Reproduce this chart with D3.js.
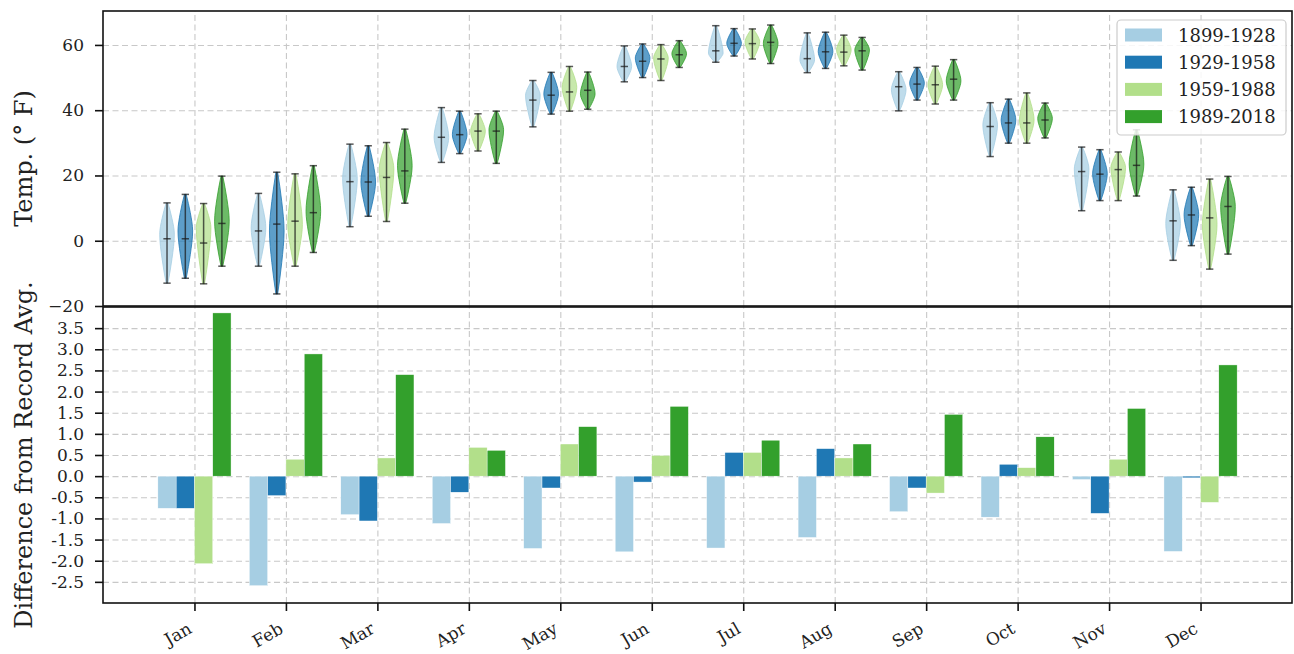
<!DOCTYPE html>
<html><head><meta charset="utf-8">
<script src="https://cdn.jsdelivr.net/npm/d3@7"></script>
<style>body{margin:0;background:#fff} text{font-family:"DejaVu Serif",serif;fill:#222}</style>
</head><body><svg id="c" width="1294" height="654"></svg>
<script>
// ---------- data ----------
const months = ["Jan","Feb","Mar","Apr","May","Jun","Jul","Aug","Sep","Oct","Nov","Dec"];
const periods = ["1899-1928","1929-1958","1959-1988","1989-2018"];
const tempTicks = [-20,0,20,40,60];
const diffTicks = [-2.5,-2.0,-1.5,-1.0,-0.5,0.0,0.5,1.0,1.5,2.0,2.5,3.0,3.5];

// violin stats (deg F)
const min1899 = [-13.0,-7.8,4.3,24.0,34.9,48.7,54.7,51.5,39.8,25.8,9.2,-6.0];
const min1929 = [-11.5,-16.3,7.5,26.7,38.8,50.0,56.6,52.8,43.1,29.9,12.3,-1.5];
const min1959 = [-13.2,-7.8,5.9,27.5,39.7,49.1,55.7,53.6,41.9,29.9,12.3,-8.7];
const min1989 = [-7.8,-3.6,11.5,23.7,40.3,53.1,54.3,52.3,43.1,31.5,13.7,-4.1];

const med1899 = [0.6,3.0,18.1,31.7,43.1,53.4,58.2,55.8,47.2,35.0,21.2,6.1];
const med1929 = [0.6,5.1,18.0,32.5,44.6,55.0,60.5,57.9,48.0,36.1,20.4,7.9];
const med1959 = [-0.7,6.0,19.4,33.6,45.6,55.7,60.4,57.8,47.8,36.1,21.8,7.0];
const med1989 = [5.3,8.6,21.4,33.6,46.1,57.0,60.8,58.2,49.5,37.0,23.1,10.5];

const max1899 = [11.6,14.5,29.6,40.8,49.1,59.7,65.9,63.7,51.8,42.3,28.7,15.6];
const max1929 = [14.2,21.0,29.1,39.7,51.6,60.3,65.0,63.9,53.1,43.4,27.9,16.4];
const max1959 = [11.4,20.5,30.1,38.9,53.4,60.1,64.9,63.0,53.5,45.3,27.2,18.9];
const max1989 = [19.8,23.0,34.2,39.7,51.7,61.3,66.1,62.3,55.5,42.2,34.0,19.7];

const mode1899 = [2,4,19,31.7,44.6,53.4,57.5,55.4,46.3,35.5,22,5.3];
const mode1929 = [3,3,18,32.5,45,56,60.5,58,48.3,37,20.5,8];
const mode1959 = [4,5,22,33.6,47,56,61,58.5,47.8,37,22.5,5];
const mode1989 = [6,9,23,34,45,57.3,60.5,58.5,49,37.5,23.5,10.5];

// difference from record average
const diff1899 = [-0.76,-2.59,-0.91,-1.12,-1.71,-1.79,-1.70,-1.45,-0.84,-0.97,-0.08,-1.78];
const diff1929 = [-0.76,-0.46,-1.06,-0.38,-0.28,-0.14,0.56,0.65,-0.28,0.28,-0.88,-0.04];
const diff1959 = [-2.07,0.40,0.43,0.68,0.76,0.49,0.56,0.43,-0.40,0.20,0.40,-0.62];
const diff1989 = [3.86,2.89,2.40,0.61,1.17,1.65,0.85,0.76,1.46,0.93,1.60,2.63];

const mins = [min1899,min1929,min1959,min1989];
const meds = [med1899,med1929,med1959,med1989];
const maxs = [max1899,max1929,max1959,max1989];
const modes = [mode1899,mode1929,mode1959,mode1989];
const diffs = [diff1899,diff1929,diff1959,diff1989];

const colors = ["#a6cee3","#1f78b4","#b2df8a","#33a02c"];

// ---------- layout ----------
const L=103, R=1292, T1=11, B1=306, T2=307, B2=603;
const svg = d3.select("#c");
const x = d3.scaleLinear().domain([-1,12]).range([L,R]);
const y1 = d3.scaleLinear().domain([-20,70.4]).range([B1,T1]);
const y2 = d3.scaleLinear().domain([-3,4]).range([B2,T2]);
const unit = x(1)-x(0);

const gridStyle = g => {
  g.select(".domain").remove();
  g.selectAll("line").attr("stroke","#c8c8c8").attr("stroke-width",1.1).attr("stroke-dasharray","6,3.5");
  g.selectAll("text").remove();
};
// grids
svg.append("g").attr("transform",`translate(${L},0)`)
  .call(d3.axisLeft(y1).tickValues([0,20,40,60]).tickSize(-(R-L))).call(gridStyle);
svg.append("g").attr("transform",`translate(0,${B1})`)
  .call(d3.axisBottom(x).tickValues(d3.range(12)).tickSize(-(B1-T1))).call(gridStyle);
svg.append("g").attr("transform",`translate(${L},0)`)
  .call(d3.axisLeft(y2).tickValues(diffTicks).tickSize(-(R-L))).call(gridStyle);
svg.append("g").attr("transform",`translate(0,${B2})`)
  .call(d3.axisBottom(x).tickValues(d3.range(12)).tickSize(-(B2-T2))).call(gridStyle);

// ---------- violins ----------
const vw = 0.16*unit/2; // half width
const capW = 0.04*unit;
const area = d3.area()
  .y(d=>y1(d.t)).x0(d=>d.cx - vw*d.f).x1(d=>d.cx + vw*d.f)
  .curve(d3.curveMonotoneY);
const gv = svg.append("g");
periods.forEach((p,i)=>{
  months.forEach((m,j)=>{
    const cx = x(j - 0.3 + 0.2*i);
    const mn=mins[i][j], md=modes[i][j], mx=maxs[i][j], me=meds[i][j];
    const pts = [
      {t:mn,f:0.12},{t:mn+0.5*(md-mn),f:0.68},{t:md,f:1},
      {t:md+0.5*(mx-md),f:0.68},{t:mx,f:0.12}].map(d=>({...d,cx}));
    gv.append("path").attr("d",area(pts))
      .attr("fill",colors[i]).attr("fill-opacity",0.72)
      .attr("stroke",colors[i]).attr("stroke-opacity",0.8).attr("stroke-width",1);
    const ln = gv.append("g").attr("stroke","#1a1a1a").attr("stroke-opacity",0.72).attr("stroke-width",1.5);
    ln.append("line").attr("x1",cx).attr("x2",cx).attr("y1",y1(mn)).attr("y2",y1(mx));
    [mn,me,mx].forEach(v=>ln.append("line").attr("x1",cx-capW).attr("x2",cx+capW).attr("y1",y1(v)).attr("y2",y1(v)));
  });
});

// ---------- bars ----------
const gb = svg.append("g");
periods.forEach((p,i)=>{
  gb.selectAll(null).data(diffs[i]).enter().append("rect")
    .attr("x",(v,j)=>x(j-0.4+0.2*i))
    .attr("width",x(0.2)-x(0))
    .attr("y",v=>y2(Math.max(v,0)))
    .attr("height",v=>Math.abs(y2(v)-y2(0)))
    .attr("fill",colors[i]).attr("stroke","#fff").attr("stroke-width",0.4);
});

// ---------- frames ----------
[[T1,B1],[T2,B2]].forEach(([t,b])=>{
  svg.append("rect").attr("x",L).attr("y",t).attr("width",R-L).attr("height",b-t)
    .attr("fill","none").attr("stroke","#111").attr("stroke-width",1.6);
});

// ---------- axes ----------
const axStyle = g => {
  g.select(".domain").remove();
  g.selectAll("line").attr("stroke","#111").attr("stroke-width",1.6);
  g.selectAll("text").style("font-size","17px").attr("fill","#222");
};
svg.append("g").attr("transform",`translate(${L},0)`)
  .call(d3.axisLeft(y1).tickValues(tempTicks).tickSize(8).tickPadding(11).tickFormat(d3.format("d")))
  .call(axStyle);
svg.append("g").attr("transform",`translate(${L},0)`)
  .call(d3.axisLeft(y2).tickValues(diffTicks).tickSize(8).tickPadding(11).tickFormat(v=>d3.format(".1f")(v).replace("\u2212","-")))
  .call(axStyle);
const xa = svg.append("g").attr("transform",`translate(0,${B2})`)
  .call(d3.axisBottom(x).tickValues(d3.range(12)).tickSize(8).tickFormat(j=>months[j]))
  .call(axStyle);
xa.selectAll("text").attr("x",0).attr("y",0).attr("dy",0)
  .attr("text-anchor","end").attr("transform","translate(-2,29) rotate(-30)");

// axis titles
svg.append("text").attr("transform",`translate(32,${(T1+B1)/2}) rotate(-90)`)
  .attr("text-anchor","middle").style("font-size","24px").text("Temp. (\u00b0 F)");
svg.append("text").attr("transform",`translate(32,${(T2+B2)/2}) rotate(-90)`)
  .attr("text-anchor","middle").style("font-size","24px").text("Difference from Record Avg.");

// ---------- legend ----------
const lg = svg.append("g");
lg.append("rect").attr("x",1117).attr("y",20).attr("width",169).attr("height",115).attr("rx",4)
  .attr("fill","#fff").attr("fill-opacity",0.85).attr("stroke","#cccccc").attr("stroke-width",1.2);
periods.forEach((p,i)=>{
  const cy = 35 + i*27.2;
  lg.append("rect").attr("x",1125).attr("y",cy-6.5).attr("width",37).attr("height",13).attr("fill",colors[i]);
  lg.append("text").attr("x",1178).attr("y",cy+6.5).style("font-size","18px").text(p);
});
</script></body></html>
